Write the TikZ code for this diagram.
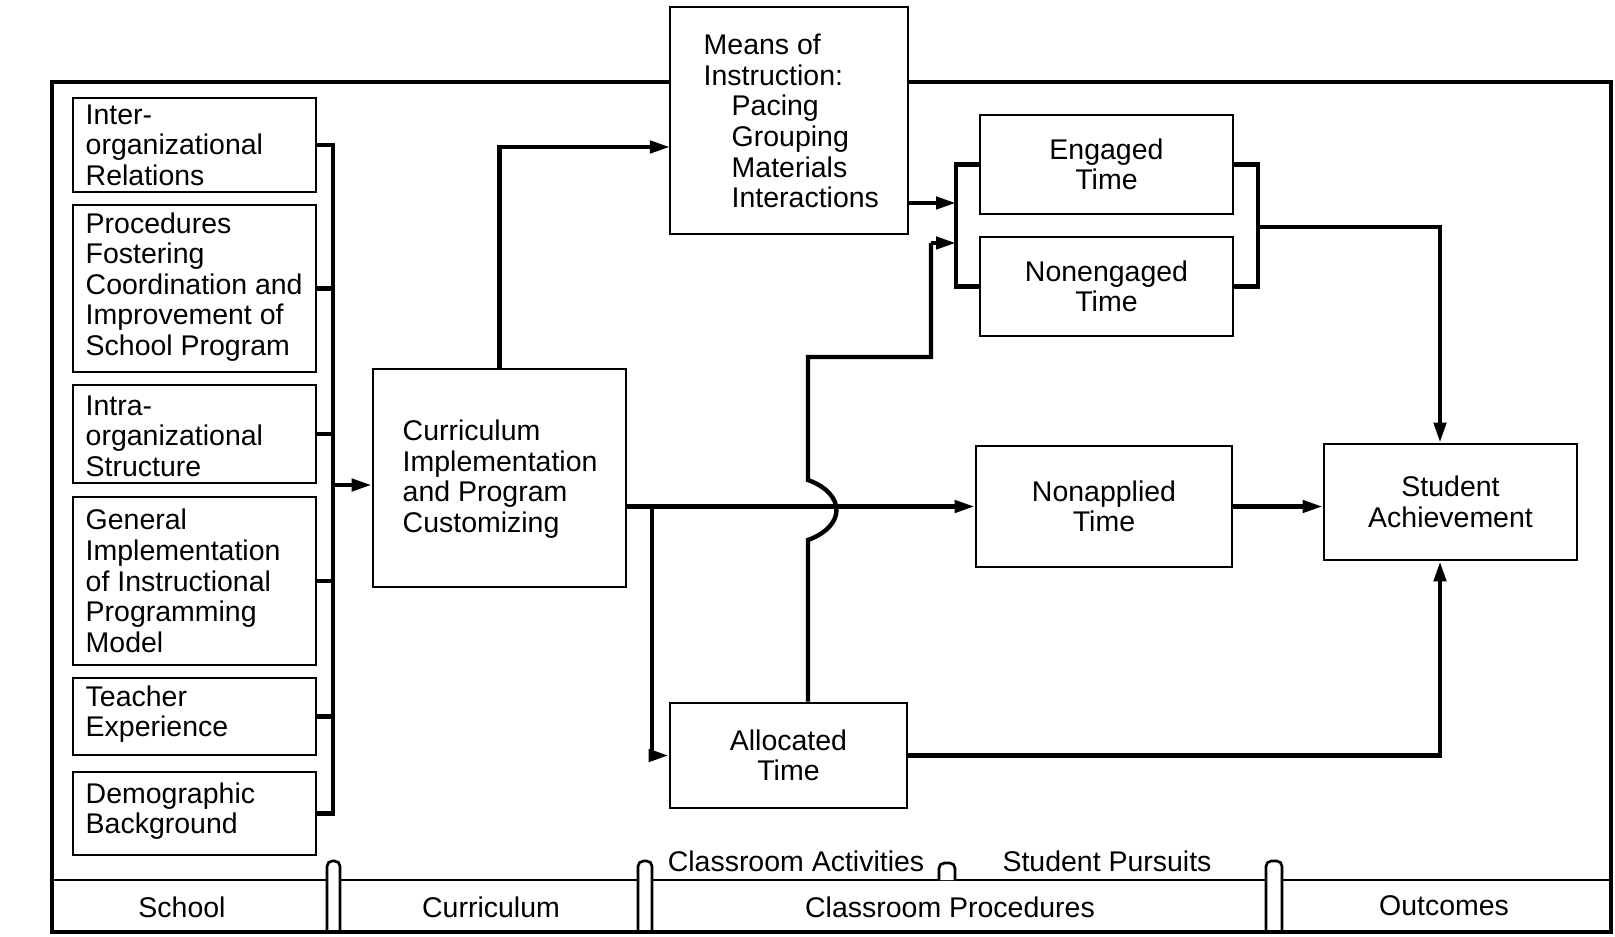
\documentclass[tikz,border=0pt]{standalone}
\usepackage{fontspec}
\setmainfont{Liberation Sans}
\usetikzlibrary{arrows.meta}
\begin{document}
\begin{tikzpicture}[x=0.01cm,y=-0.01cm,
  every node/.style={font=\fontsize{8.1}{8.7}\selectfont},
  box/.style={draw,line width=0.75pt,rectangle,inner sep=0pt,fill=white},
  txt/.style={inner sep=0pt,align=left,anchor=west},
  ctxt/.style={draw,line width=0.75pt,rectangle,inner sep=0pt,align=center,fill=white},
  conn/.style={line width=1.25pt},
  arr/.style={line width=1.25pt,-{Triangle[length=0.2cm,width=0.12cm]}},
  frame/.style={line width=1.4pt},
  thin/.style={line width=0.75pt}]
\useasboundingbox (0,0) rectangle (1615,937);

% outer frame and bottom band
\draw[frame] (52,82) rectangle (1611,932);
\draw[thin] (52,880) -- (1611,880);
\draw[thin,fill=white,rounded corners=1.5pt] (327,932) -- (327,861) -- (340,861) -- (340,932);
\draw[thin,fill=white,rounded corners=1.5pt] (638,932) -- (638,861) -- (652,861) -- (652,932);
\draw[thin,fill=white,rounded corners=1.5pt] (1266,932) -- (1266,861) -- (1282,861) -- (1282,932);
\draw[thin,fill=white,rounded corners=1.5pt] (939,880) -- (939,863) -- (955,863) -- (955,880);
\draw[frame] (52,932) -- (1611,932);

\node[inner sep=0pt] (lschool) at (182,907) {School};
\node[inner sep=0pt] (lcurr) at (491,907) {Curriculum};
\node[inner sep=0pt] (lproc) at (950,907) {Classroom Procedures};
\node[inner sep=0pt] (lout) at (1444,906) {Outcomes};
\node[inner sep=0pt] (lact) at (796,861) {Classroom Activities};
\node[inner sep=0pt] (lpur) at (1107,861) {Student Pursuits};

% left boxes
\node[box,minimum width=2.43cm,minimum height=0.94cm] (b1) at (194.5,145) {};
\node[txt] (t1) at (85,145) {Inter-\\organizational\\Relations};
\node[box,minimum width=2.43cm,minimum height=1.67cm] (b2) at (194.5,288.5) {};
\node[txt] (t2) at (85,287) {Procedures\\Fostering\\Coordination and\\Improvement of\\School Program};
\node[box,minimum width=2.43cm,minimum height=0.98cm] (b3) at (194.5,434) {};
\node[txt] (t3) at (85,436) {Intra-\\organizational\\Structure};
\node[box,minimum width=2.43cm,minimum height=1.68cm] (b4) at (194.5,581) {};
\node[txt] (t4) at (85,581) {General\\Implementation\\of Instructional\\Programming\\Model};
\node[box,minimum width=2.43cm,minimum height=0.77cm] (b5) at (194.5,716.5) {};
\node[txt] (t5) at (85,714) {Teacher\\Experience};
\node[box,minimum width=2.43cm,minimum height=0.83cm] (b6) at (194.5,813.5) {};
\node[txt] (t6) at (85,811) {Demographic\\Background};

% curriculum box
\node[box,minimum width=2.53cm,minimum height=2.18cm] (curr) at (499.5,478) {};
\node[txt] (tcurr) at (402,479) {Curriculum\\Implementation\\and Program\\Customizing};

% means of instruction
\node[box,minimum width=2.38cm,minimum height=2.27cm] (means) at (789,120.5) {};
\node[txt] (tmeans) at (703,121) {Means of\\Instruction:\\\hspace*{0.28cm}Pacing\\\hspace*{0.28cm}Grouping\\\hspace*{0.28cm}Materials\\\hspace*{0.28cm}Interactions};

% time boxes
\node[ctxt,minimum width=2.53cm,minimum height=0.99cm] (eng) at (1106.5,164.5) {Engaged\\Time};
\node[ctxt,minimum width=2.53cm,minimum height=0.99cm] (neng) at (1106.5,286.5) {Nonengaged\\Time};
\node[ctxt,minimum width=2.56cm,minimum height=1.21cm] (napp) at (1104,506.5) {Nonapplied\\Time};
\node[ctxt,minimum width=2.37cm,minimum height=1.05cm] (alloc) at (788.5,755.5) {Allocated\\Time};
\node[ctxt,minimum width=2.53cm,minimum height=1.16cm] (stud) at (1450.5,502) {Student\\Achievement};

% helper coordinates
\coordinate (bx) at (333,0);
\coordinate (a1) at (333,485);
\coordinate (m1) at (670,147);
\coordinate (lb) at (956,0);
\coordinate (rb) at (1258,0);
\coordinate (sx) at (1440,0);
\coordinate (vx) at (808,0);
\coordinate (c1) at (652,506.5);

% left bracket
\draw[conn] (b1.east) -- (b1.east -| bx) -- (b6.east -| bx) -- (b6.east);
\draw[conn] (b2.east) -- (b2.east -| bx);
\draw[conn] (b3.east) -- (b3.east -| bx);
\draw[conn] (b4.east) -- (b4.east -| bx);
\draw[conn] (b5.east) -- (b5.east -| bx);
\draw[arr] (a1) -- (a1 -| curr.west);

% curriculum to means
\draw[arr] (curr.north) |- (m1);

% means to engaged bracket
\draw[arr] (means.east |- 0,203) -- (lb |- 0,203);

% engaged/nonengaged brackets
\draw[conn] (eng.west) -- (eng.west -| lb) -- (neng.west -| lb) -- (neng.west);
\draw[conn] (eng.east) -- (eng.east -| rb) -- (neng.east -| rb) -- (neng.east);
\draw[arr] (rb |- 0,227) -| (sx |- stud.north);

% main line curriculum -> nonapplied
\draw[arr] (curr.east |- napp.west) -- (napp.west);
\draw[arr] (napp.east) -- (stud.west |- napp.east);

% curriculum -> allocated
\draw[arr] (c1) |- (alloc.west);

% allocated -> engaged bracket with hop
\draw[conn] (vx |- alloc.north) -- (808,540) .. controls (846,526) and (846,494) .. (808,480) -- (808,357) -- (931,357) -- (931,243);
\draw[arr] (931,243) -- (lb |- 0,243);

% allocated -> student
\draw[arr] (alloc.east) -| (sx |- stud.south);
\end{tikzpicture}
\end{document}
